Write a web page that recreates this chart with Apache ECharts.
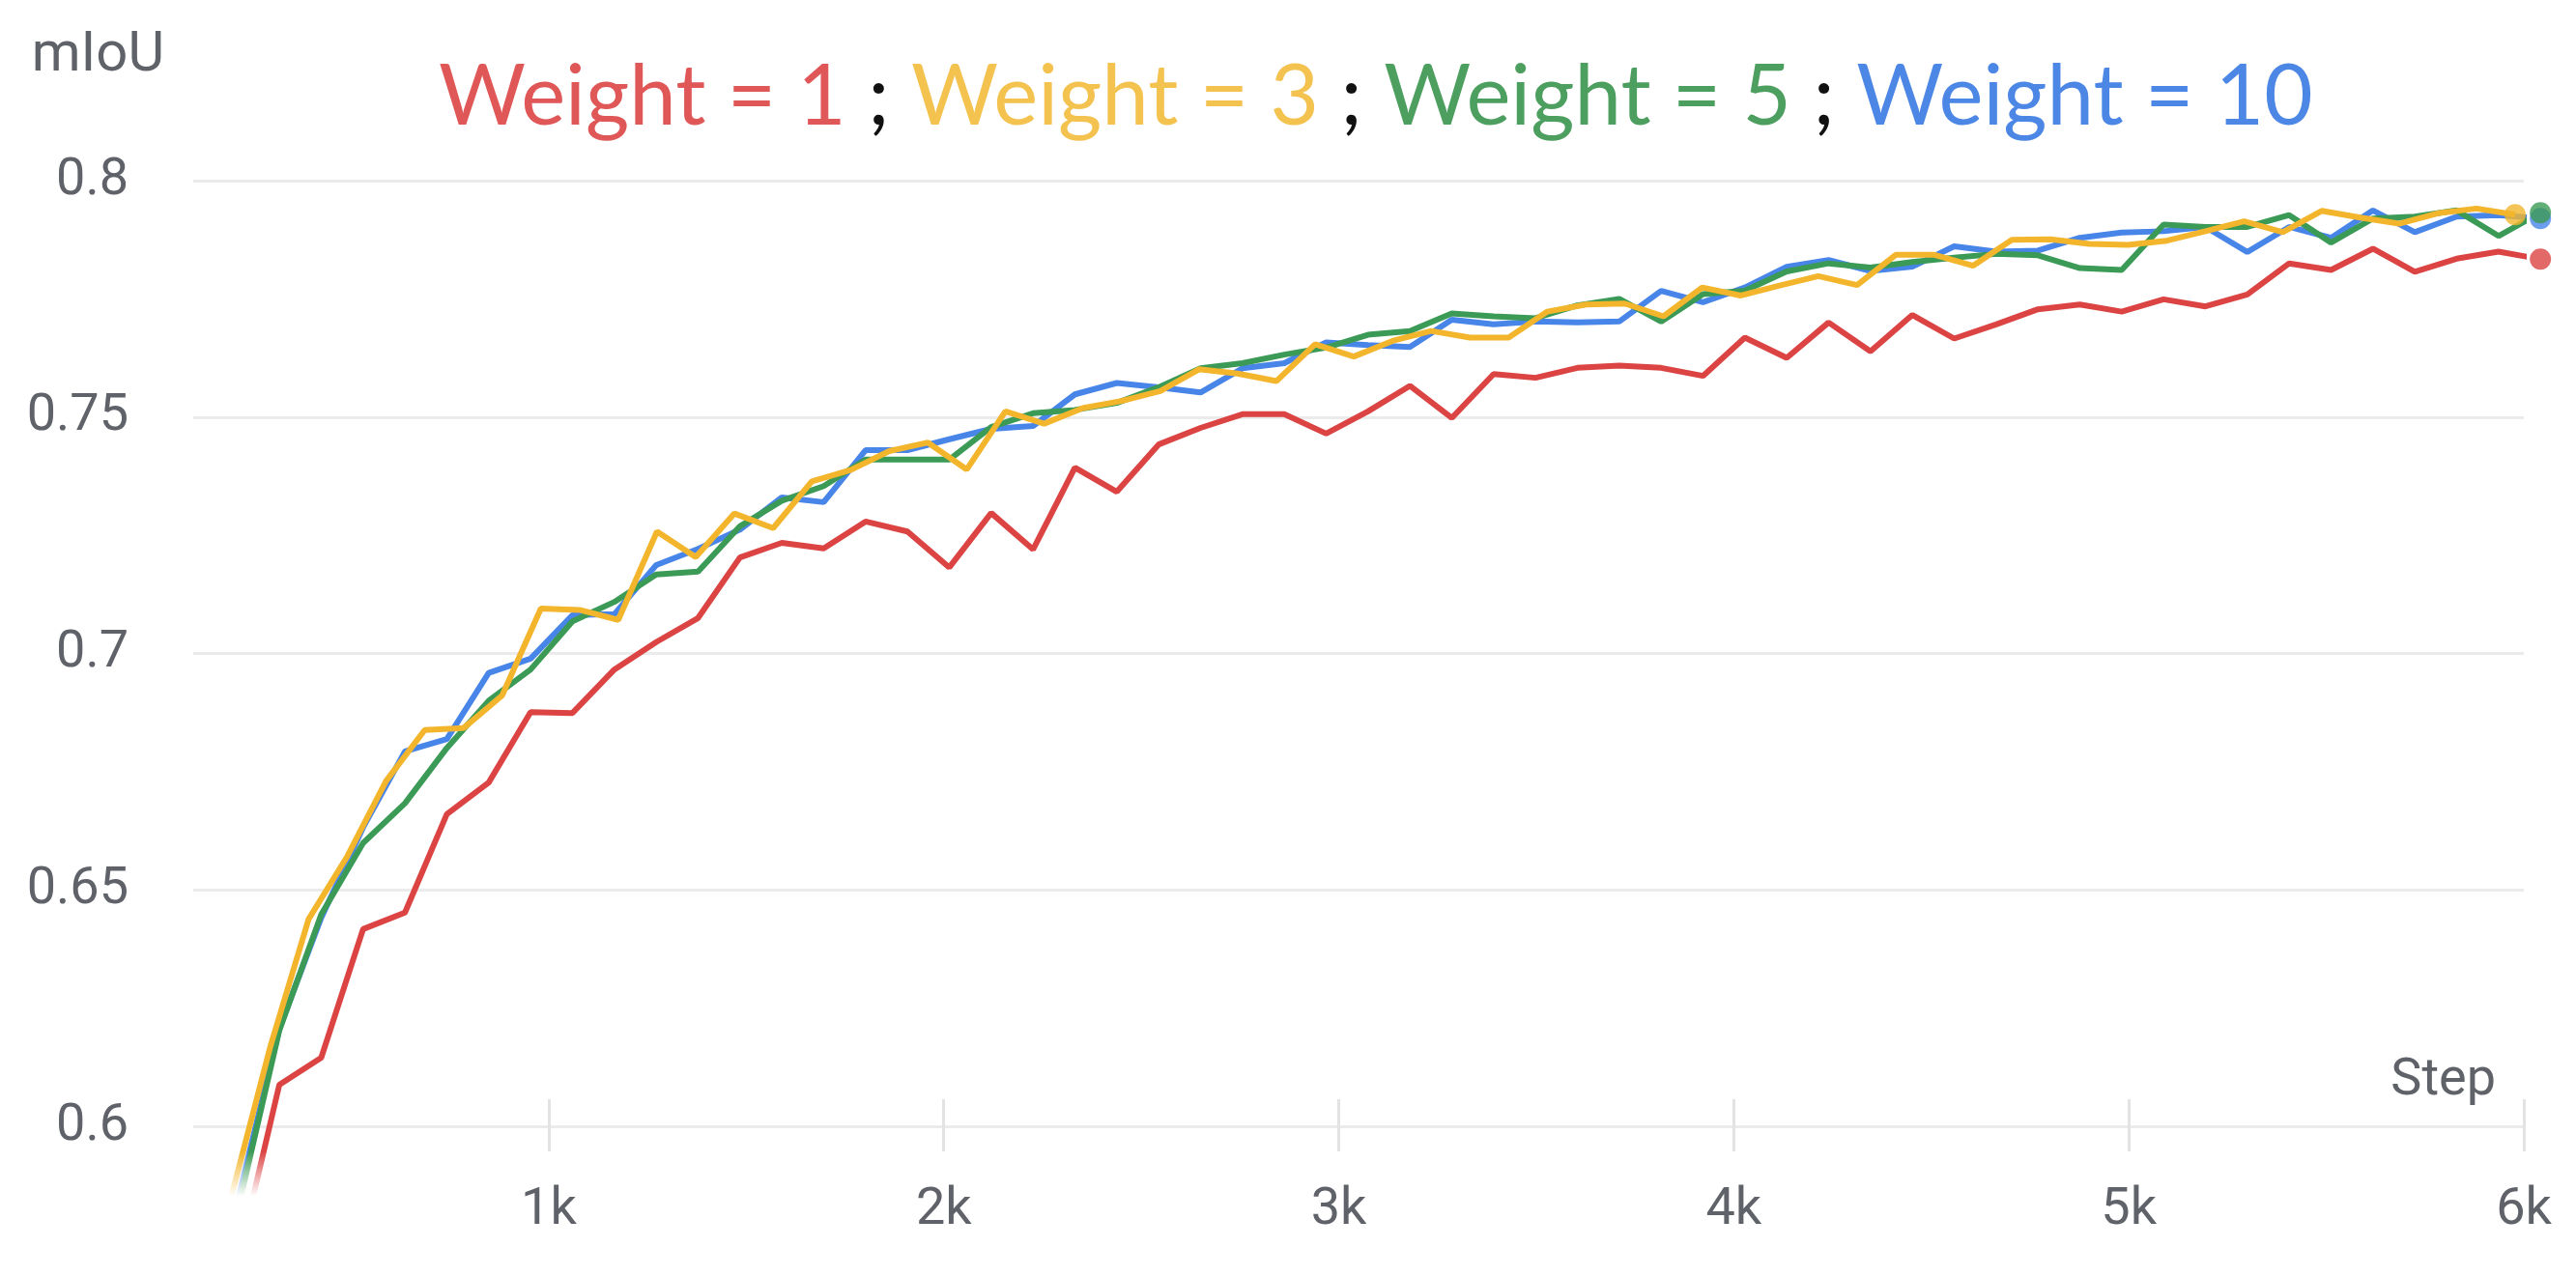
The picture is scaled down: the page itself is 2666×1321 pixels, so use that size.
<!DOCTYPE html>
<html>
<head>
<meta charset="utf-8">
<script src="https://cdn.jsdelivr.net/npm/echarts@6/dist/echarts.min.js"></script>
<style>
html,body{margin:0;padding:0;background:#fff;}
#chart{width:2666px;height:1321px;}
</style>
</head>
<body>
<div id="chart"></div>
<script>
// Steps for runs Weight = 1, 5, 10
const stepsA = [212, 318, 424, 530, 636, 742, 848, 954, 1060, 1166, 1272, 1378, 1484, 1590, 1696, 1802, 1908, 2014, 2120, 2226, 2332, 2438, 2544, 2650, 2756, 2862, 2968, 3074, 3180, 3286, 3392, 3498, 3604, 3710, 3816, 3922, 4028, 4134, 4240, 4346, 4452, 4558, 4664, 4770, 4876, 4982, 5088, 5194, 5300, 5406, 5512, 5618, 5724, 5830, 5936, 6042];
// Steps for run Weight = 3
const stepsB = [196, 294, 392, 490, 588, 686, 784, 882, 980, 1078, 1176, 1274, 1372, 1470, 1568, 1666, 1764, 1862, 1960, 2058, 2156, 2254, 2352, 2450, 2548, 2646, 2744, 2842, 2940, 3038, 3136, 3234, 3332, 3430, 3528, 3626, 3724, 3822, 3920, 4018, 4116, 4214, 4312, 4410, 4508, 4606, 4704, 4802, 4900, 4998, 5096, 5194, 5292, 5390, 5488, 5586, 5684, 5782, 5880, 5978];

const weight1 = [0.571, 0.6088, 0.6145, 0.6417, 0.6452, 0.6660, 0.6727, 0.6876, 0.6874, 0.6966, 0.7024, 0.7075, 0.7203, 0.7234, 0.7222, 0.7279, 0.7258, 0.7182, 0.7297, 0.7220, 0.7393, 0.7342, 0.7442, 0.7477, 0.7506, 0.7506, 0.7465, 0.7512, 0.7566, 0.7498, 0.7591, 0.7583, 0.7604, 0.7609, 0.7604, 0.7587, 0.7668, 0.7625, 0.7700, 0.7639, 0.7716, 0.7666, 0.7696, 0.7728, 0.7738, 0.7723, 0.7749, 0.7734, 0.7759, 0.7825, 0.7811, 0.7856, 0.7807, 0.7835, 0.7850, 0.7834];
const weight3 = [0.585, 0.6165, 0.6438, 0.6571, 0.6730, 0.6838, 0.6842, 0.6911, 0.7095, 0.7092, 0.7071, 0.7258, 0.7204, 0.7296, 0.7265, 0.7364, 0.7388, 0.7428, 0.7446, 0.7389, 0.7512, 0.7486, 0.7519, 0.7534, 0.7555, 0.7601, 0.7592, 0.7576, 0.7654, 0.7628, 0.7661, 0.7682, 0.7668, 0.7668, 0.7723, 0.7738, 0.7740, 0.7713, 0.7774, 0.7757, 0.7778, 0.7798, 0.7779, 0.7843, 0.7843, 0.7820, 0.7875, 0.7876, 0.7866, 0.7864, 0.7873, 0.7893, 0.7914, 0.7891, 0.7936, 0.7922, 0.7909, 0.7931, 0.7941, 0.7928];
const weight5 = [0.582, 0.6203, 0.6448, 0.6599, 0.6683, 0.6800, 0.6900, 0.6966, 0.7068, 0.7109, 0.7167, 0.7173, 0.7269, 0.7323, 0.7354, 0.7410, 0.7410, 0.7410, 0.7479, 0.7508, 0.7515, 0.7530, 0.7563, 0.7603, 0.7614, 0.7632, 0.7647, 0.7674, 0.7682, 0.7719, 0.7713, 0.7709, 0.7736, 0.7750, 0.7702, 0.7760, 0.7767, 0.7808, 0.7825, 0.7816, 0.7828, 0.7837, 0.7845, 0.7842, 0.7815, 0.7811, 0.7907, 0.7902, 0.7902, 0.7927, 0.7869, 0.7920, 0.7924, 0.7937, 0.7883, 0.7932];
const weight10 = [0.584, 0.6207, 0.6441, 0.6632, 0.6793, 0.6819, 0.6959, 0.6989, 0.7081, 0.7083, 0.7187, 0.7221, 0.7262, 0.7330, 0.7320, 0.7430, 0.7430, 0.7453, 0.7475, 0.7481, 0.7548, 0.7572, 0.7563, 0.7552, 0.7603, 0.7614, 0.7658, 0.7652, 0.7648, 0.7706, 0.7696, 0.7702, 0.7700, 0.7702, 0.7767, 0.7743, 0.7774, 0.7818, 0.7832, 0.7809, 0.7818, 0.7861, 0.7850, 0.7852, 0.7879, 0.7890, 0.7893, 0.7902, 0.7849, 0.7902, 0.7879, 0.7937, 0.7891, 0.7924, 0.7927, 0.7920];

const xTicks = [1000, 2000, 3000, 4000, 5000, 6000];
const yTicks = [0.6, 0.65, 0.7, 0.75, 0.8];

const COLORS = {w1: '#dc4444', w3: '#f3b52c', w5: '#3b9a55', w10: '#4885e9'};

function toData(steps, vals) {
  return vals.map(function (v, k) {
    const p = [steps[k], v];
    if (k === vals.length - 1) {
      return {value: p, symbol: 'circle', symbolSize: 22, itemStyle: {opacity: 0.8}};
    }
    return p;
  });
}

function lineSeries(name, steps, vals, color, z) {
  return {
    name: name,
    type: 'line',
    data: toData(steps, vals),
    symbol: 'none',
    showSymbol: true,
    clip: false,
    z: z,
    lineStyle: {color: color, width: 6},
    itemStyle: {color: color},
    emphasis: {disabled: true}
  };
}

const chart = echarts.init(document.getElementById('chart'), null, {renderer: 'canvas'});
const FONT = 'Roboto';
const LABEL_COLOR = '#5f6268';
const TS = 87;

chart.setOption({
  animation: false,
  backgroundColor: '#ffffff',
  title: {
    left: 449,
    top: 52,
    text: '{r|Weight = 1} {k|;} {y|Weight = 3} {k|;} {g|Weight = 5} {k|;} {b|Weight = 10}',
    textStyle: {
      fontFamily: 'Lato', fontSize: TS, fontWeight: 'normal', color: '#111',
      rich: {
        r: {fontFamily: 'Lato', fontSize: TS, color: '#e05757'},
        y: {fontFamily: 'Lato', fontSize: TS, color: '#f3c24f'},
        g: {fontFamily: 'Lato', fontSize: TS, color: '#4d9f60'},
        b: {fontFamily: 'Lato', fontSize: TS, color: '#4c87e6'},
        k: {fontFamily: 'Lato', fontSize: TS, color: '#111111'}
      }
    }
  },
  grid: {left: 200, right: 54, top: 187, bottom: 155, containLabel: false},
  xAxis: {
    type: 'value',
    min: 100,
    max: 6000,
    offset: -28,
    name: 'Step',
    nameLocation: 'end',
    nameGap: -29,
    nameTextStyle: {fontFamily: FONT, fontSize: 54, lineHeight: 38, color: LABEL_COLOR, align: 'right', verticalAlign: 'bottom'},
    axisLine: {show: false},
    axisTick: {show: true, customValues: xTicks, length: 54, lineStyle: {color: '#e3e3e3', width: 3}},
    axisLabel: {
      customValues: xTicks,
      margin: 88,
      fontFamily: FONT, fontSize: 54, color: LABEL_COLOR,
      formatter: function (v) { return (v / 1000) + 'k'; }
    },
    splitLine: {show: false}
  },
  yAxis: {
    type: 'value',
    min: 0.6,
    max: 0.8,
    interval: 0.05,
    name: 'mIoU',
    nameLocation: 'end',
    nameGap: 100,
    nameTextStyle: {fontFamily: FONT, fontSize: 58, color: LABEL_COLOR, align: 'right', verticalAlign: 'bottom', padding: [0, 30, 0, 0]},
    axisLine: {show: false},
    axisTick: {show: false},
    axisLabel: {
      margin: 67,
      fontFamily: FONT, fontSize: 54, color: LABEL_COLOR,
      formatter: function (v) { return String(Math.round(v * 100) / 100); }
    },
    splitLine: {show: true, lineStyle: {color: '#ebebeb', width: 3}}
  },
  graphic: [{
    type: 'rect',
    z: 100,
    silent: true,
    shape: {x: 205, y: 1192, width: 160, height: 129},
    style: {
      fill: new echarts.graphic.LinearGradient(0, 0, 0, 1, [
        {offset: 0, color: 'rgba(255,255,255,0)'},
        {offset: 0.36, color: 'rgba(255,255,255,1)'},
        {offset: 1, color: 'rgba(255,255,255,1)'}
      ])
    }
  }],
  series: [
    lineSeries('Weight = 1', stepsA, weight1, COLORS.w1, 2),
    lineSeries('Weight = 10', stepsA, weight10, COLORS.w10, 3),
    lineSeries('Weight = 5', stepsA, weight5, COLORS.w5, 4),
    lineSeries('Weight = 3', stepsB, weight3, COLORS.w3, 5)
  ]
});
</script>
</body>
</html>
